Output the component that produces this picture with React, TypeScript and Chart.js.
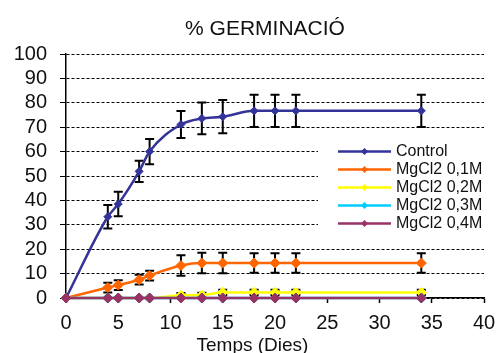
import React, { useEffect, useRef } from "react";
import { Chart, registerables } from "chart.js";

Chart.register(...registerables);

const chartTitle = "% GERMINACIÓ";
const xAxisTitle = "Temps (Dies)";
const days = [0, 4, 5, 7, 8, 11, 13, 15, 18, 20, 22, 34];
const seriesNames = ["Control", "MgCl2 0,1M", "MgCl2 0,2M", "MgCl2 0,3M", "MgCl2 0,4M"];
const seriesColors = ["#333399", "#FF6600", "#FFFF00", "#00CCFF", "#993366"];
const control = [0, 33.3, 38.5, 51.9, 60, 71.1, 73.6, 74.3, 76.7, 76.7, 76.7, 76.7];
const controlErr = [0, 4.8, 5, 4.4, 5.2, 5.5, 6.5, 6.8, 6.6, 6.6, 6.6, 6.6];
const mg01 = [0, 4.3, 5.3, 7.5, 9.2, 13.3, 14.3, 14.3, 14.3, 14.3, 14.3, 14.3];
const mg01Err = [0, 2, 2, 2, 2, 4.2, 4.2, 4.2, 4, 4, 4, 4];
const mg02 = [0, 0, 0, 0, 0, 1.1, 1.2, 2.3, 2.3, 2.3, 2.3, 2.3];
const mg02Err = [0, 0, 0, 0, 0, 1, 1, 1.1, 1.1, 1.1, 1.1, 1.1];
const mg03 = [0, 0, 0, 0, 0, 0, 0, 0, 0, 0, 0, 0];
const mg03Err = [0, 0, 0, 0, 0, 0, 0, 0, 0, 0, 0, 0];
const mg04 = [0, 0, 0, 0, 0, 0, 0, 0, 0, 0, 0, 0];
const mg04Err = [0, 0, 0, 0, 0, 0, 0, 0, 0, 0, 0, 0];
const xTickMin = 0;
const xTickMax = 40;
const xTickStep = 5;
const yTickMin = 0;
const yTickMax = 100;
const yTickStep = 10;

const allValues = [control, mg01, mg02, mg03, mg04];
const allErrors = [controlErr, mg01Err, mg02Err, mg03Err, mg04Err];
const pointSizes = [4, 5, 5, 5, 5];

const FONT = "'Liberation Sans', Arial, sans-serif";

export default function App() {
  const ref = useRef<HTMLCanvasElement | null>(null);

  useEffect(() => {
    const canvas = ref.current;
    if (!canvas) return;

    const datasets = allValues.map((vals, i) => ({
      label: seriesNames[i],
      data: days.map((d, j) => ({ x: d, y: vals[j] })),
      borderColor: seriesColors[i],
      backgroundColor: seriesColors[i],
      pointBackgroundColor: seriesColors[i],
      pointBorderColor: seriesColors[i],
      pointStyle: "rectRot",
      pointRadius: pointSizes[i],
      pointBorderWidth: 1,
      borderWidth: 2.5,
      cubicInterpolationMode: "monotone" as const,
      order: allValues.length - i,
      clip: false,
      errors: allErrors[i],
    }));

    const decor = {
      id: "decor",
      beforeDatasetsDraw(chart: any) {
        const { ctx, scales } = chart;
        const xs = scales.x;
        const ys = scales.y;
        ctx.save();
        // legend background box
        ctx.fillStyle = "#ffffff";
        ctx.fillRect(318, 136, 172, 104);
        // error bars
        ctx.strokeStyle = "#000";
        ctx.lineWidth = 2;
        chart.data.datasets.forEach((ds: any) => {
          ds.data.forEach((p: any, j: number) => {
            const e = ds.errors[j];
            if (!e) return;
            const px = xs.getPixelForValue(p.x);
            const top = ys.getPixelForValue(p.y + e);
            const bot = ys.getPixelForValue(p.y - e);
            ctx.beginPath();
            ctx.moveTo(px, top);
            ctx.lineTo(px, bot);
            ctx.moveTo(px - 4.5, top);
            ctx.lineTo(px + 4.5, top);
            ctx.moveTo(px - 4.5, bot);
            ctx.lineTo(px + 4.5, bot);
            ctx.stroke();
          });
        });
        ctx.restore();
      },
      afterDraw(chart: any) {
        const { ctx } = chart;
        ctx.save();
        // title
        ctx.fillStyle = "#111";
        ctx.font = `21px ${FONT}`;
        ctx.textAlign = "center";
        ctx.textBaseline = "alphabetic";
        ctx.fillText(chartTitle, 265, 35);
        // x-axis title
        ctx.font = `19px ${FONT}`;
        ctx.fillText(xAxisTitle, 252.5, 351);
        // legend
        ctx.textAlign = "left";
        ctx.textBaseline = "middle";
        ctx.font = `16px ${FONT}`;
        seriesNames.forEach((name, i) => {
          const y = 151.5 + 18 * i;
          ctx.strokeStyle = seriesColors[i];
          ctx.lineWidth = 2.5;
          ctx.beginPath();
          ctx.moveTo(338, y);
          ctx.lineTo(391, y);
          ctx.stroke();
          const cx = 364.5;
          const r = 3.5;
          ctx.fillStyle = seriesColors[i];
          ctx.beginPath();
          ctx.moveTo(cx - r, y);
          ctx.lineTo(cx, y - r);
          ctx.lineTo(cx + r, y);
          ctx.lineTo(cx, y + r);
          ctx.closePath();
          ctx.fill();
          ctx.fillStyle = "#111";
          ctx.fillText(name, 396, y);
        });
        ctx.restore();
      },
    };

    const chart = new Chart(canvas, {
      type: "line",
      data: { datasets: datasets as any },
      options: {
        responsive: false,
        animation: false,
        devicePixelRatio: 1,
        layout: { padding: { left: 0, right: 14, top: 54, bottom: 0 } },
        plugins: {
          legend: { display: false },
          title: { display: false },
          tooltip: { enabled: false },
        },
        scales: {
          x: {
            type: "linear",
            min: xTickMin,
            max: xTickMax,
            afterFit: (s: any) => {
              s.height = 55;
              s.paddingLeft = 0;
              s.paddingRight = 0;
            },
            ticks: {
              stepSize: xTickStep,
              color: "#111",
              font: { family: FONT, size: 20 },
              padding: 8,
              maxRotation: 0,
              autoSkip: false,
            },
            grid: {
              drawOnChartArea: false,
              drawTicks: true,
              tickLength: 5,
              tickColor: "#000",
              tickWidth: 1.5,
            },
            border: { display: true, color: "#000", width: 1.5 },
          },
          y: {
            type: "linear",
            min: yTickMin,
            max: yTickMax,
            afterFit: (s: any) => {
              s.width = 66;
              s.paddingTop = 0;
              s.paddingBottom = 0;
            },
            ticks: {
              stepSize: yTickStep,
              color: "#111",
              font: { family: FONT, size: 20 },
              padding: 13,
              autoSkip: false,
            },
            grid: {
              color: "#000",
              lineWidth: 1,
              drawTicks: true,
              tickLength: 6,
              tickColor: "#000",
              tickBorderDash: [],
            },
            border: { display: true, color: "#000", width: 1.5, dash: [3, 2] },
          },
        },
      },
      plugins: [decor],
    });

    return () => chart.destroy();
  }, []);

  return (
    <div style={{ position: "fixed", left: 0, top: 0, width: 498, height: 353, background: "#fff" }}>
      <canvas ref={ref} width={498} height={353} style={{ width: "498px", height: "353px", display: "block" }} />
    </div>
  );
}
